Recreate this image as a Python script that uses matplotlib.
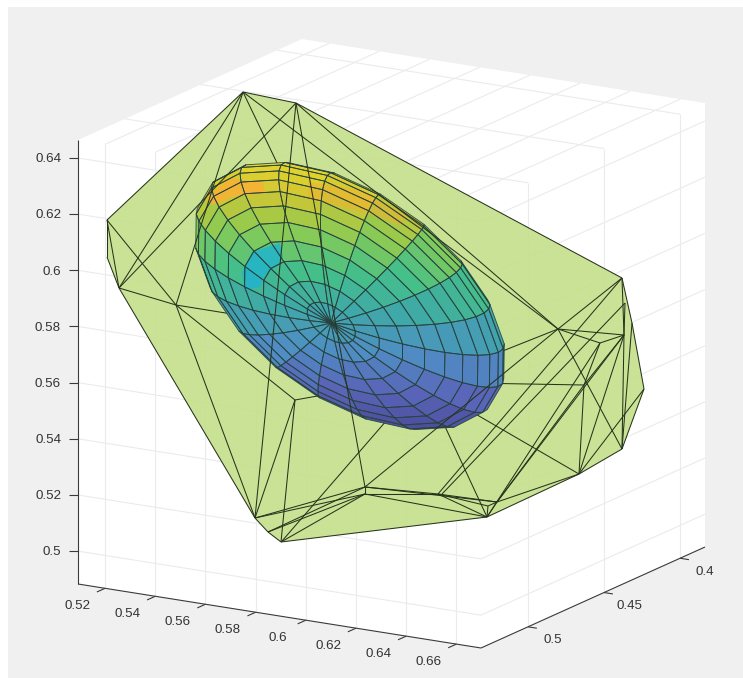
import numpy as np
import matplotlib
matplotlib.use("Agg")
import matplotlib.pyplot as plt
from matplotlib.collections import PolyCollection, LineCollection
from matplotlib.colors import LinearSegmentedColormap
from matplotlib.patches import Polygon

plt.rcParams['font.family'] = ['Liberation Sans', 'DejaVu Sans']

# ---- axis data (MATLAB-style 3D box, seen from below)
x_ticks = [0.52, 0.54, 0.56, 0.58, 0.60, 0.62, 0.64, 0.66]
y_ticks = [0.40, 0.45, 0.50]
z_ticks = [0.50, 0.52, 0.54, 0.56, 0.58, 0.60, 0.62, 0.64]
x_labels = ['0.52', '0.54', '0.56', '0.58', '0.6', '0.62', '0.64', '0.66']
y_labels = ['0.4', '0.45', '0.5']
z_labels = ['0.5', '0.52', '0.54', '0.56', '0.58', '0.6', '0.62', '0.64']
x_lim = (0.5092, 0.6698)
y_lim = (0.5309, 0.3836)
z_lim = (0.4883, 0.6464)
origin_px = (78.0, 584.0)        # screen position of (x_lim[0], y_lim[0], z_lim[0])
x_vec_px = (403.0, 64.0)
y_vec_px = (224.0, -101.0)
z_vec_px = (0.0, -444.0)

# ---- convex hull (screen pixels)
hull_outline = [(243, 92), (296, 103), (622, 278), (632, 323), (644, 389), (622, 449),
                (579, 474), (487, 517), (281, 542), (268, 532), (255, 518), (119, 288),
                (107, 257), (107, 220)]
V = dict(a=(243, 92), b=(296, 103), c=(622, 278), d=(625, 303), e=(632, 323), f=(644, 389),
         g=(622, 449), h=(579, 474), i=(487, 517), j=(281, 542), k=(268, 532), l=(255, 518),
         m=(119, 288), n=(107, 257), o=(107, 220), p=(176, 305), q=(295, 400), r=(365, 487),
         s=(365, 494), t=(438, 494), u=(488, 506), v=(497, 502), w=(558, 329), x=(624, 335),
         y=(600, 343), z=(584, 385), t2=(442, 494))
edges_front = [('a', 'b'), ('b', 'c'), ('c', 'e'), ('e', 'f'), ('f', 'g'), ('g', 'h'), ('h', 'i'),
               ('i', 'j'), ('j', 'k'), ('k', 'l'), ('l', 'm'), ('m', 'n'), ('n', 'o'), ('o', 'a'),
               ('a', 'm'), ('a', 'p'), ('b', 'm'), ('b', 'r'), ('b', 'l'), ('b', 'w'), ('a', 'w'),
               ('o', 'm'), ('o', 'p'), ('m', 'p'), ('p', 'q'), ('p', 'l'), ('q', 'l'), ('q', 'j'),
               ('l', 'r'), ('k', 'r'), ('k', 's'), ('j', 's'), ('l', 's'), ('r', 's'), ('r', 't'),
               ('s', 't'), ('s', 'i'), ('t', 'i'), ('t', 'u'), ('t', 'v'), ('r', 'v'), ('u', 'v'),
               ('u', 'i'), ('v', 'i'), ('t', 'c'), ('t2', 'd'), ('r', 'w'), ('w', 'c'), ('w', 'x'),
               ('w', 'y'), ('y', 'x'), ('y', 'z'), ('w', 'g'), ('z', 'x'), ('z', 'h'), ('c', 'x'),
               ('x', 'g'), ('e', 'g'), ('h', 'f'), ('h', 'x'), ('v', 'x'), ('v', 'z'), ('i', 'y'),
               ('v', 'h'), ('d', 'x')]
edges_back_px = [((243, 92), (290, 190)), ((176, 305), (300, 325)), ((295, 400), (340, 392)),
                 ((282, 541), (400, 405)), ((442, 420), (487, 517)),
                 ((460, 405), (579, 474)), ((480, 360), (558, 329)), ((470, 383), (584, 385))]

# ---- ellipsoid: MATLAB ellipsoid(...,20) faces
ell_center = (350.0, 296.0)
ell_A = (144.0, 106.0)
ell_B = (-57.0, 78.0)
ell_D = (-19.0, 27.0)
theta_phase_deg = 6.0
n_faces = 20
color_gradient = (-0.36, -0.30, -0.12)   # colour value per unit-sphere coordinate
color_offset = 0.50
parula_like = ['#4a4a98', '#5a64b8', '#4f8ec4', '#3fa8a8', '#45c088', '#8ccb52',
               '#d3c632', '#e8d92a']
cyan_patch = [(280, 243), (252, 252), (242, 273), (245, 290), (260, 287), (265, 275), (278, 265), (283, 257)]
orange_patch = [(205, 198), (230, 178), (263, 183), (265, 193), (232, 197), (212, 205)]
orange_strip = [(308, 182), (360, 190), (407, 216), (400, 225), (350, 208), (308, 200)]

bg_color = '#f0f0f0'
hull_color = '#c6e08e'
line_color = '#27331c'

# ---- figure
W, H = 743, 678
fig = plt.figure(figsize=(W / 100, H / 100), dpi=100, facecolor='white')
ax = fig.add_axes([0, 0, 1, 1])
ax.set_xlim(0, W)
ax.set_ylim(H, 0)
ax.axis('off')
ax.add_patch(Polygon([(8, 7), (W, 7), (W, H), (8, H)], fc=bg_color, ec='none', zorder=0))


def P(x, y, z):
    u = (x - x_lim[0]) / (x_lim[1] - x_lim[0])
    v = (y - y_lim[0]) / (y_lim[1] - y_lim[0])
    w = (z - z_lim[0]) / (z_lim[1] - z_lim[0])
    return (origin_px[0] + u * x_vec_px[0] + v * y_vec_px[0] + w * z_vec_px[0],
            origin_px[1] + u * x_vec_px[1] + v * y_vec_px[1] + w * z_vec_px[1])


x0, x1 = x_lim
y0, y1 = y_lim
z0, z1 = z_lim
box = [P(x0, y0, z0), P(x1, y0, z0), P(x1, y1, z0), P(x1, y1, z1), P(x0, y1, z1), P(x0, y0, z1)]
ax.add_patch(Polygon(box, fc='white', ec='none', zorder=1))

grid = []
for xv in x_ticks:
    grid += [[P(xv, y0, z0), P(xv, y0, z1)], [P(xv, y0, z1), P(xv, y1, z1)]]
for yv in y_ticks:
    grid += [[P(x1, yv, z0), P(x1, yv, z1)], [P(x1, yv, z1), P(x0, yv, z1)]]
for zv in z_ticks:
    grid += [[P(x0, y0, zv), P(x1, y0, zv)], [P(x1, y0, zv), P(x1, y1, zv)]]
ax.add_collection(LineCollection(grid, colors='#ebebee', linewidths=0.8, zorder=2))

# axis rulers and ticks
axis_col = '#3a3a3a'
axes_lines = [[P(x0, y0, z0), P(x0, y0, z1)], [P(x0, y0, z0), P(x1, y0, z0)], [P(x1, y0, z0), P(x1, y1, z0)]]
tx = np.array(x_vec_px) / np.linalg.norm(x_vec_px) * 9
ty = np.array(y_vec_px) / np.linalg.norm(y_vec_px) * 9
for xv in x_ticks:
    p = np.array(P(xv, y0, z0))
    axes_lines.append([p, p - ty])
for yv in y_ticks:
    p = np.array(P(x1, yv, z0))
    axes_lines.append([p, p + tx])
for zv in z_ticks:
    p = np.array(P(x0, y0, zv))
    axes_lines.append([p, p + (-9, 0)])
ax.add_collection(LineCollection(axes_lines, colors=axis_col, linewidths=0.8, zorder=3))

txt = dict(color='#333333', fontsize=9.6, zorder=10, ha='center', va='center')
for xv, s in zip(x_ticks, x_labels):
    p = P(xv, y0, z0)
    ax.text(p[0] - 28, p[1] + 17.5, s, **txt)
for yv, s in zip(y_ticks, y_labels):
    p = P(x1, yv, z0)
    ax.text(p[0] + 25, p[1] + 13.5, s, **txt)
for zv, s in zip(z_ticks, z_labels):
    p = P(x0, y0, zv)
    ax.text(p[0] - 17, p[1] + 1.2, s, color='#333333', fontsize=9.6, zorder=10, ha='right', va='center')

# hull fill and back edges
ax.add_patch(Polygon(hull_outline, fc=hull_color, ec='none', alpha=0.93, zorder=4))
ax.add_collection(LineCollection(edges_back_px, colors=line_color, linewidths=0.75, zorder=5))

# ellipsoid
C = np.array(ell_center)
M = np.array([ell_A, ell_B, ell_D]).T
ph = np.radians(np.linspace(-90, 90, n_faces + 1))
th = np.radians(np.linspace(0, 360, n_faces + 1) + theta_phase_deg)
cmap = LinearSegmentedColormap.from_list('p', parula_like)
polys, cols = [], []
g = np.array(color_gradient)
for i in range(n_faces):
    for j in range(n_faces):
        idx = [(i, j), (i, j + 1), (i + 1, j + 1), (i + 1, j)]
        U = np.array([[np.cos(ph[a]) * np.cos(th[b]), np.cos(ph[a]) * np.sin(th[b]), np.sin(ph[a])] for a, b in idx])
        S = C + U @ M.T
        xs, ys = S[:, 0], S[:, 1]
        area = 0.5 * np.sum(xs * np.roll(ys, -1) - np.roll(xs, -1) * ys)
        if area <= 0:
            continue
        polys.append(S)
        cols.append(cmap(np.clip(color_offset + g @ U.mean(axis=0), 0, 1)))
ax.add_collection(PolyCollection(polys, facecolors=cols, edgecolors='none', zorder=6))
ax.add_patch(Polygon(cyan_patch, fc='#1fb4d0', ec='none', alpha=0.8, zorder=6.2))
ax.add_patch(Polygon(orange_patch, fc='#f7b235', ec='none', alpha=0.9, zorder=6.2))
ax.add_patch(Polygon(orange_strip, fc='#f0b030', ec='none', alpha=0.5, zorder=6.2))
ax.add_collection(PolyCollection(polys, facecolors='none', edgecolors='#26423f', linewidths=0.65, alpha=0.9, zorder=6.4))

# hull edges in front
segs = [[V[a], V[b]] for a, b in edges_front]
ax.add_collection(LineCollection(segs, colors=line_color, linewidths=0.75, zorder=7))

fig.savefig('out.png', dpi=100)
